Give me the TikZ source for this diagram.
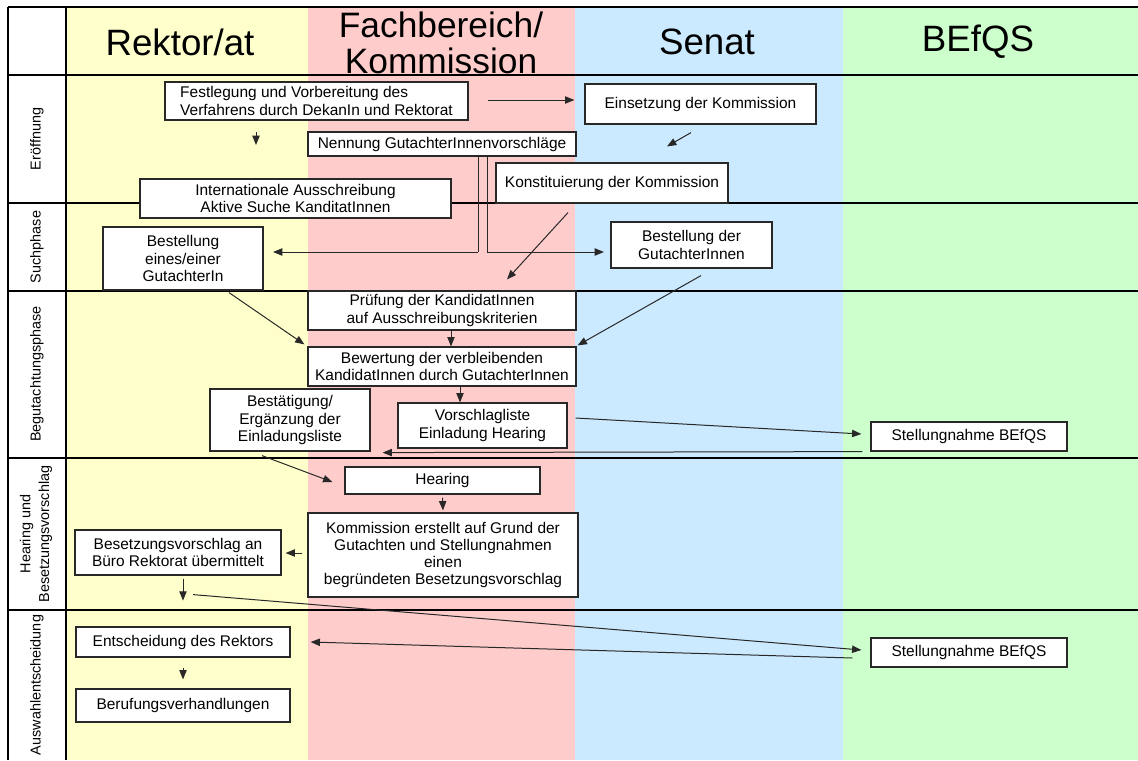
\documentclass[tikz,border=0pt]{standalone}
\usepackage{fontspec}
\setmainfont{Liberation Sans}
\usetikzlibrary{arrows.meta,calc}
\definecolor{cyel}{RGB}{255,255,204}
\definecolor{cpink}{RGB}{255,204,204}
\definecolor{cblue}{RGB}{204,234,255}
\definecolor{cgreen}{RGB}{204,255,204}
\definecolor{cline}{RGB}{40,40,40}
\begin{document}
\begin{tikzpicture}[x=0.75pt,y=-0.75pt,
  box/.style={draw=cline, fill=white, line width=0.9pt, inner sep=1pt, align=center,
    font=\fontsize{11.6}{12.8}\selectfont},
  arr/.style={draw=cline, line width=0.75pt, -{Triangle[length=7pt,width=5.5pt]}},
  plain/.style={draw=cline, line width=0.75pt},
  lanehead/.style={font=\fontsize{27.5}{24.5}\selectfont, align=center, inner sep=0pt},
  phase/.style={font=\fontsize{10.8}{14}\selectfont, rotate=90, align=center, inner sep=0pt},
  gridline/.style={draw=black, line width=0.9pt}]
\useasboundingbox (0,0) rectangle (1138,760);
\fill[white] (0,0) rectangle (1138,760);
% lanes
\fill[cyel] (66,7) rectangle (308,760);
\fill[cpink] (308,7) rectangle (575,760);
\fill[cblue] (575,7) rectangle (843,760);
\fill[cgreen] (843,7) rectangle (1138,760);
% grid
\draw[gridline] (8,7) -- (1138,7);
\draw[gridline] (8,7) -- (8,760);
\draw[gridline] (66,7) -- (66,760);
\foreach \yy in {75,203,291,458,610} { \draw[gridline] (8,\yy) -- (1138,\yy); }
% headers
\node[lanehead] (hR) at (180,42) {Rektor/at};
\node[lanehead, font=\fontsize{26.5}{27}\selectfont] (hF) at (441,43) {Fachbereich/\\Kommission};
\node[lanehead] (hS) at (707,42) {Senat};
\node[lanehead] (hB) at (978,42) {BEfQS};
% phases
\node[phase] (p1) at (37,139) {Eröffnung};
\node[phase] (p2) at (37,247) {Suchphase};
\node[phase] (p3) at (37,374) {Begutachtungsphase};
\node[phase] (p4) at (36,534) {Hearing und\\Besetzungsvorschlag};
\node[phase] (p5) at (37,685) {Auswahlentscheidung};
% connectors behind boxes (lines from Nennung)
\coordinate (n1) at (478,252);
\coordinate (n2) at (487,252);
\coordinate (t1) at (273,252);
\coordinate (t2) at (604,252);
% boxes
\node[box, align=left, minimum width=227.25pt, minimum height=28.5pt] (fest) at (316.5,101) {Festlegung und Vorbereitung des\\Verfahrens durch DekanIn und Rektorat};
\node[box, minimum width=173.25pt, minimum height=30pt] (einsetz) at (700.5,104) {Einsetzung der Kommission};
\draw[plain] (478,150) -- (n1);
\draw[plain] (487,150) -- (n2);
\node[box, minimum width=201pt, minimum height=18pt] (nenn) at (442,144) {Nennung GutachterInnenvorschläge};
\node[box, minimum width=174pt, minimum height=30pt] (konst) at (612,183) {Konstituierung der Kommission};
\node[box, minimum width=233.25pt, minimum height=29.25pt] (intl) at (295.5,198.5) {Internationale Ausschreibung\\Aktive Suche KanditatInnen};
\node[box, minimum width=120pt, minimum height=47.25pt] (besteines) at (183,258.5) {Bestellung\\eines/einer\\GutachterIn};
\node[box, minimum width=120.75pt, minimum height=34.5pt] (bestder) at (691.5,245) {Bestellung der\\GutachterInnen};
\node[box, minimum width=201pt, minimum height=29.25pt] (pruef) at (442,310.5) {Prüfung der KandidatInnen\\auf Ausschreibungskriterien};
\node[box, minimum width=201pt, minimum height=29.25pt] (bewert) at (442,366.5) {Bewertung der verbleibenden\\KandidatInnen durch GutachterInnen};
\node[box, minimum width=120pt, minimum height=46.5pt] (bestaet) at (290,420) {Bestätigung/\\Ergänzung der\\Einladungsliste};
\node[box, minimum width=126.75pt, minimum height=33.75pt] (vorschl) at (482.5,425.5) {Vorschlagliste\\Einladung Hearing};
\node[box, minimum width=147pt, minimum height=21.75pt] (stell1) at (969,436.5) {Stellungnahme BEfQS};
\node[box, minimum width=146.25pt, minimum height=20.25pt] (hearing) at (442.5,480.5) {Hearing};
\node[box, minimum width=202.5pt, minimum height=63pt] (komm) at (443,555) {Kommission erstellt auf Grund der\\Gutachten und Stellungnahmen\\einen\\begründeten Besetzungsvorschlag};
\node[box, minimum width=154.5pt, minimum height=33.75pt] (besetz) at (178,552.5) {Besetzungsvorschlag an\\Büro Rektorat übermittelt};
\node[box, minimum width=160.5pt, minimum height=22.5pt] (entsch) at (183,642) {Entscheidung des Rektors};
\node[box, minimum width=160.5pt, minimum height=24.75pt] (beruf) at (183,705.5) {Berufungsverhandlungen};
\node[box, minimum width=147pt, minimum height=21.75pt] (stell2) at (969,652.5) {Stellungnahme BEfQS};
% connectors
\draw[arr] (n1) -- (t1);
\draw[arr] (n2) -- (t2);
\draw[arr] ($(fest.east)+(19,-1)$) -- ($(einsetz.west)+(-10,-4)$);
\coordinate (b1) at (256,132);
\coordinate (b2) at (256,145);
\draw[arr] (b1) -- (b2);
\draw[arr] ($(einsetz.south)+(-9.5,8)$) -- ($(konst.north)+(55,-16)$);
\draw[arr] ($(konst.south)+(-44,9)$) -- ($(pruef.north)+(65,-11)$);
\draw[arr] ($(besteines.south)+(46,2)$) -- ($(bewert.north west)+(-3,-2)$);
\draw[arr] ($(bestder.south)+(9.5,7)$) -- ($(bewert.north east)+(1,-1)$);
\draw[arr] ($(pruef.south)+(9,0)$) -- ($(bewert.north)+(9,0)$);
\draw[arr] ($(bewert.south)+(18,0)$) -- ($(vorschl.north)+(-22.5,0)$);
\draw[arr] ($(vorschl.east)+(8,-7.5)$) -- ($(stell1.west)+(-9,-2.5)$);
\draw[arr] ($(stell1.south west)+(-8,0)$) -- ($(bestaet.south east)+(12,1)$);
\draw[arr] ($(bestaet.south)+(-28,4)$) -- ($(hearing.west)+(-12,1.5)$);
\draw[arr] ($(hearing.south)+(0,3)$) -- ($(komm.north)+(0,-2)$);
\draw[arr] ($(komm.west)+(-5,-2)$) -- ($(besetz.east)+(4,0.5)$);
\draw[arr] ($(besetz.south)+(5,3)$) -- ($(besetz.south)+(5,25)$);
\draw[arr] ($(besetz.south)+(15,19)$) -- ($(stell2.west)+(-9,-2.5)$);
\draw[arr] ($(stell2.west)+(-18,5.5)$) -- ($(entsch.east)+(20,0)$);
\draw[arr] ($(entsch.south)+(0,10)$) -- ($(beruf.north)+(0,-9)$);
\end{tikzpicture}
\end{document}
